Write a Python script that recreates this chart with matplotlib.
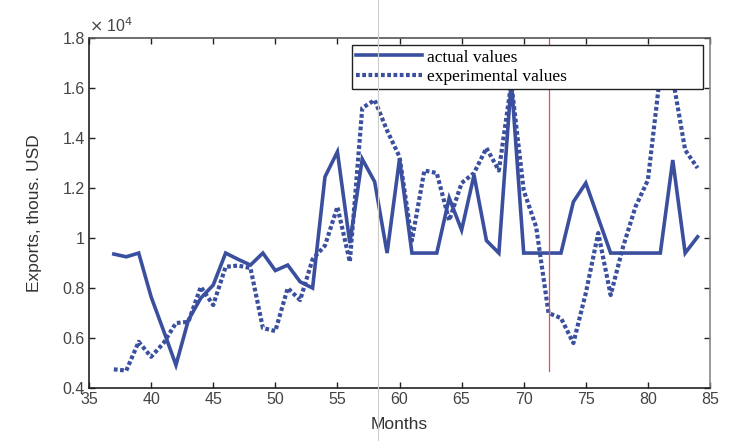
import matplotlib
matplotlib.use('Agg')
import matplotlib.pyplot as plt
from matplotlib.lines import Line2D
from matplotlib.ticker import FuncFormatter
import numpy as np

plt.rcParams['font.family'] = ['Liberation Sans', 'DejaVu Sans']

# months 37..84
months = list(range(37, 85))

# exports, thous. USD
actual = [9360, 9250, 9400, 7650, 6300, 4920, 6720, 7600, 8120, 9400,
          9150, 8920, 9400, 8700, 8920, 8250, 8000, 12450, 13450, 9800,
          13160, 12250, 9400, 13160, 9400, 9400, 9400, 11600, 10320, 12520,
          9900, 9400, 16300, 9400, 9400, 9400, 9400, 11450, 12200, 10800,
          9400, 9400, 9400, 9400, 9400, 13120, 9400, 10050]

experimental = [4750, 4700, 5850, 5250, 5800, 6600, 6650, 8050, 7320, 8850,
                8900, 8800, 6400, 6280, 8000, 7520, 9150, 9700, 11250, 9050,
                15200, 15520, 14300, 13250, 9900, 12700, 12600, 10700, 12200, 12600,
                13600, 12700, 16200, 11900, 10450, 7000, 6800, 5800, 7800, 10200,
                7720, 9650, 11250, 12320, 16600, 16400, 13520, 12800]

yticks = [4000, 6000, 8000, 10000, 12000, 14000, 16000, 18000]
xticks = list(range(35, 90, 5))

blue = '#3b4f9f'

fig = plt.figure(figsize=(7.43, 4.41), dpi=100)
ax = fig.add_axes([0.1198, 0.120, 0.8358, 0.7938])

ax.plot(months, actual, color=blue, lw=2.6, solid_joinstyle='miter', label='actual values')
ax.plot(months, experimental, color=blue, lw=3.0, linestyle=(0, (0.9, 0.6)),
        label='experimental values')

# red marker line at month 72
ax.plot([72, 72], [4700, 18000], color='#d9534f', lw=0.9)

ax.set_xlim(35, 85)
ax.set_ylim(4000, 18000)
ax.set_xticks(xticks)
ax.set_yticks(yticks)
ax.yaxis.set_major_formatter(FuncFormatter(lambda v, p: '%g' % (v / 1e4)))
ax.tick_params(direction='in', length=4, width=1, top=True, right=True,
               labelsize=11.5, colors='#222222', labelcolor='#444444', pad=3)
for s in ax.spines.values():
    s.set_linewidth(1.2)
    s.set_color('#222222')
ax.spines['right'].set_color('#888888')
ax.spines['top'].set_color('#555555')

ax.set_xlabel('Months', fontsize=12.5, color='#333333', labelpad=7)
ax.set_ylabel('Exports, thous. USD', fontsize=12.5, color='#333333', labelpad=15)
ax.text(0.0, 1.01, r'$\times$ 10$^4$', transform=ax.transAxes, fontsize=11.5,
        color='#444444', ha='left', va='bottom')

leg = ax.legend(loc='upper left', bbox_to_anchor=(0.423, 0.857, 0.566, 0.123),
                mode='expand', frameon=True, fancybox=False, framealpha=1,
                edgecolor='#222222', borderpad=0.25, borderaxespad=0,
                handlelength=3.8, handletextpad=0.3, labelspacing=0.2,
                prop={'family': 'Liberation Serif', 'size': 12.5})
leg.get_frame().set_linewidth(1.0)
leg.set_zorder(5)

# thin gray divider across the whole picture
fig.add_artist(Line2D([0.509, 0.509], [0, 1], transform=fig.transFigure,
                      color='#cccccc', lw=0.8))

fig.savefig('out.png', dpi=100, facecolor='white')
